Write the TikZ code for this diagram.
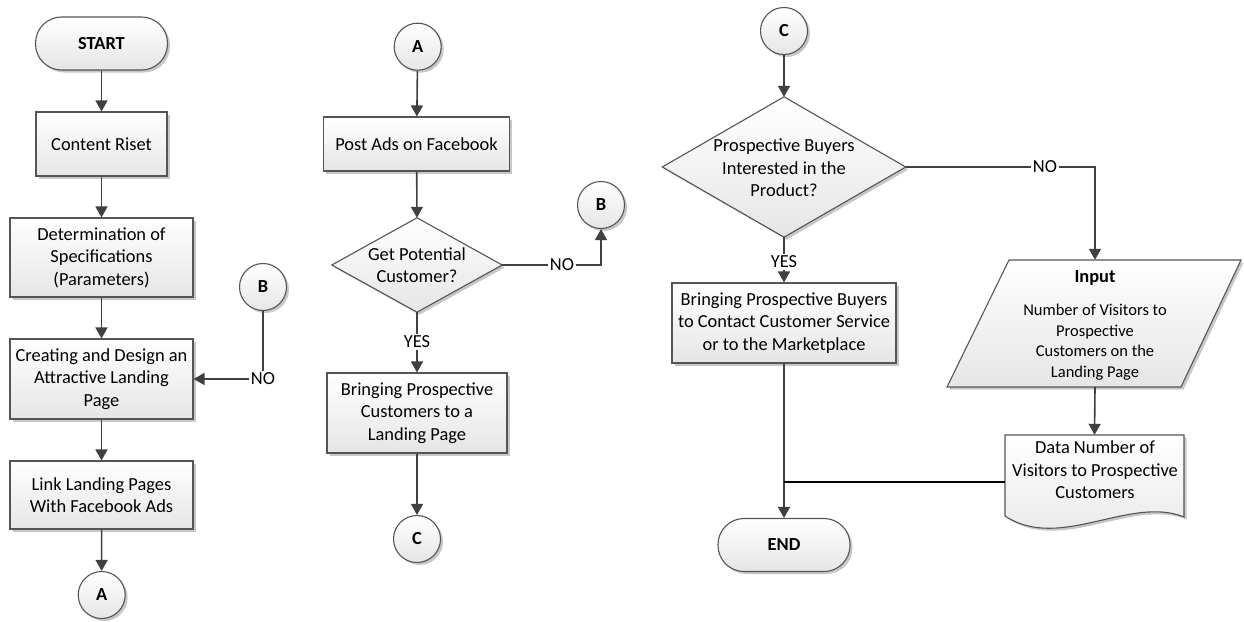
\documentclass[tikz,border=0pt]{standalone}
\usepackage{fontspec}
\setmainfont{Carlito}
\usetikzlibrary{arrows.meta,shadows,calc}
\definecolor{edgeclr}{HTML}{555555}
\definecolor{lnclr}{HTML}{404040}
\begin{document}
\begin{tikzpicture}[x=1pt,y=-1pt,
  fsz/.style={font=\fontsize{18.4}{22.5}\selectfont},
  shp/.style={draw=edgeclr, line width=1.1pt, top color=white, bottom color=black!10,
    drop shadow={shadow xshift=2.5pt, shadow yshift=-2.5pt, fill=black!22, opacity=1}},
  proc/.style={shp, rectangle, align=center, fsz, inner sep=2pt},
  term/.style={shp, rectangle, rounded corners=26pt, font=\fontsize{18.4}{22.5}\selectfont\bfseries,
    minimum width=132pt, minimum height=53pt},
  cnct/.style={shp, circle, minimum size=47pt, inner sep=0pt, font=\fontsize{18.4}{22.5}\selectfont\bfseries},
  helper/.style={rectangle, inner sep=0pt},
  lbl/.style={fsz, inner sep=1.5pt},
  txt/.style={fsz, align=center, inner sep=0pt},
  arr/.style={draw=lnclr, line width=1.6pt, -{Triangle[length=11pt,width=12pt]}},
  ln/.style={draw=lnclr, line width=1.6pt},
]
\useasboundingbox (0,0) rectangle (1244,621);

% ---------------- column 1
\node[term] (start) at (101.5,43.5) {START};
\node[proc, minimum width=131pt, minimum height=64pt] (content) at (101.5,144) {Content Riset};
\node[proc, minimum width=183pt, minimum height=79pt] (det) at (101.5,257.5) {Determination of\\Specifications\\(Parameters)};
\node[cnct] (b1) at (263,287) {B};
\node[proc, minimum width=183pt, minimum height=80pt] (creat) at (101.5,379) {Creating and Design an\\Attractive Landing\\Page};
\node[lbl] (no1) at (263,379) {NO};
\node[proc, minimum width=183pt, minimum height=68pt] (link) at (101.5,495) {Link Landing Pages\\With Facebook Ads};
\node[cnct] (a1) at (101.7,595) {A};

\draw[arr] (start) -- (content);
\draw[arr] (content) -- (det);
\draw[arr] (det) -- (creat);
\draw[arr] (creat) -- (link);
\draw[arr] (link) -- (a1);
\draw[ln] (b1.south) -- (no1.north);
\draw[arr] (no1.west) -- (creat.east);

% ---------------- column 2
\node[cnct] (a2) at (417.7,46.7) {A};
\node[proc, minimum width=186pt, minimum height=54pt] (post) at (416.5,144) {Post Ads on Facebook};
\node[helper, minimum width=170pt, minimum height=94pt] (d1) at (417,265) {};
\path[shp] (d1.north) -- (d1.east) -- (d1.south) -- (d1.west) -- cycle;
\node[txt] (d1t) at (d1) {Get Potential\\Customer?};
\node[lbl] (no2) at (562,265) {NO};
\node[cnct] (b2) at (601,205) {B};
\node[lbl] (yes1) at (417,342) {YES};
\node[proc, minimum width=180pt, minimum height=80pt] (brp) at (417,413) {Bringing Prospective\\Customers to a\\Landing Page};
\node[cnct] (c2) at (417,539) {C};

\draw[arr] (a2) -- (post);
\draw[arr] (post) -- (d1.north);
\draw[ln] (d1.east) -- (no2.west);
\draw[arr] (no2.east) -| (b2.south);
\draw[ln] (d1.south) -- (yes1.north);
\draw[arr] (yes1.south) -- (brp.north);
\draw[arr] (brp) -- (c2);

% ---------------- column 3
\node[cnct] (c3) at (784,31) {C};
\node[helper, minimum width=243pt, minimum height=140pt] (d2) at (784,167) {};
\path[shp] (d2.north) -- (d2.east) -- (d2.south) -- (d2.west) -- cycle;
\node[txt] (d2t) at (784,168) {Prospective Buyers\\Interested in the\\Product?};
\node[lbl] (no3) at (1045,167) {NO};
\node[lbl] (yes2) at (784,262) {YES};
\node[proc, minimum width=224pt, minimum height=80pt] (brb) at (784,323) {Bringing Prospective Buyers\\to Contact Customer Service\\or to the Marketplace};
\node[term] (end) at (784,545) {END};

% input (parallelogram)
\node[helper, minimum width=233pt, minimum height=127pt] (par) at (1095,323.5) {};
\path[shp] (1009,260) -- (1241,260) -- (1181,387) -- (947,387) -- cycle;
\node[txt, font=\fontsize{18.4}{22.5}\selectfont\bfseries] (inp) at (1095,278) {Input};
\node[txt, font=\fontsize{16.5}{20.5}\selectfont] (inpt) at (1095,342) {Number of Visitors to\\Prospective\\Customers on the\\Landing Page};

% document
\node[helper, minimum width=179pt, minimum height=94pt] (doc) at (1094.5,482) {};
\path[shp] (1005,435) -- (1184,435) -- (1184,517)
  .. controls (1130,495) and (1060,552) .. (1005,516) -- cycle;
\node[txt] (doct) at (1095,470) {Data Number of\\Visitors to Prospective\\Customers};

\draw[arr] (c3) -- (d2.north);
\draw[ln] (d2.east) -- (no3.west);
\draw[arr] (no3.east) -| (par.north);
\draw[ln] (d2.south) -- (yes2.north);
\draw[arr] (yes2.south) -- (brb.north);
\draw[arr] (par.south) -- (doc.north);
\draw[arr] (brb.south) -- (end.north);
\draw[line width=1.6pt, black] (doc.west) -- (doc.west -| brb.south);
\end{tikzpicture}
\end{document}
